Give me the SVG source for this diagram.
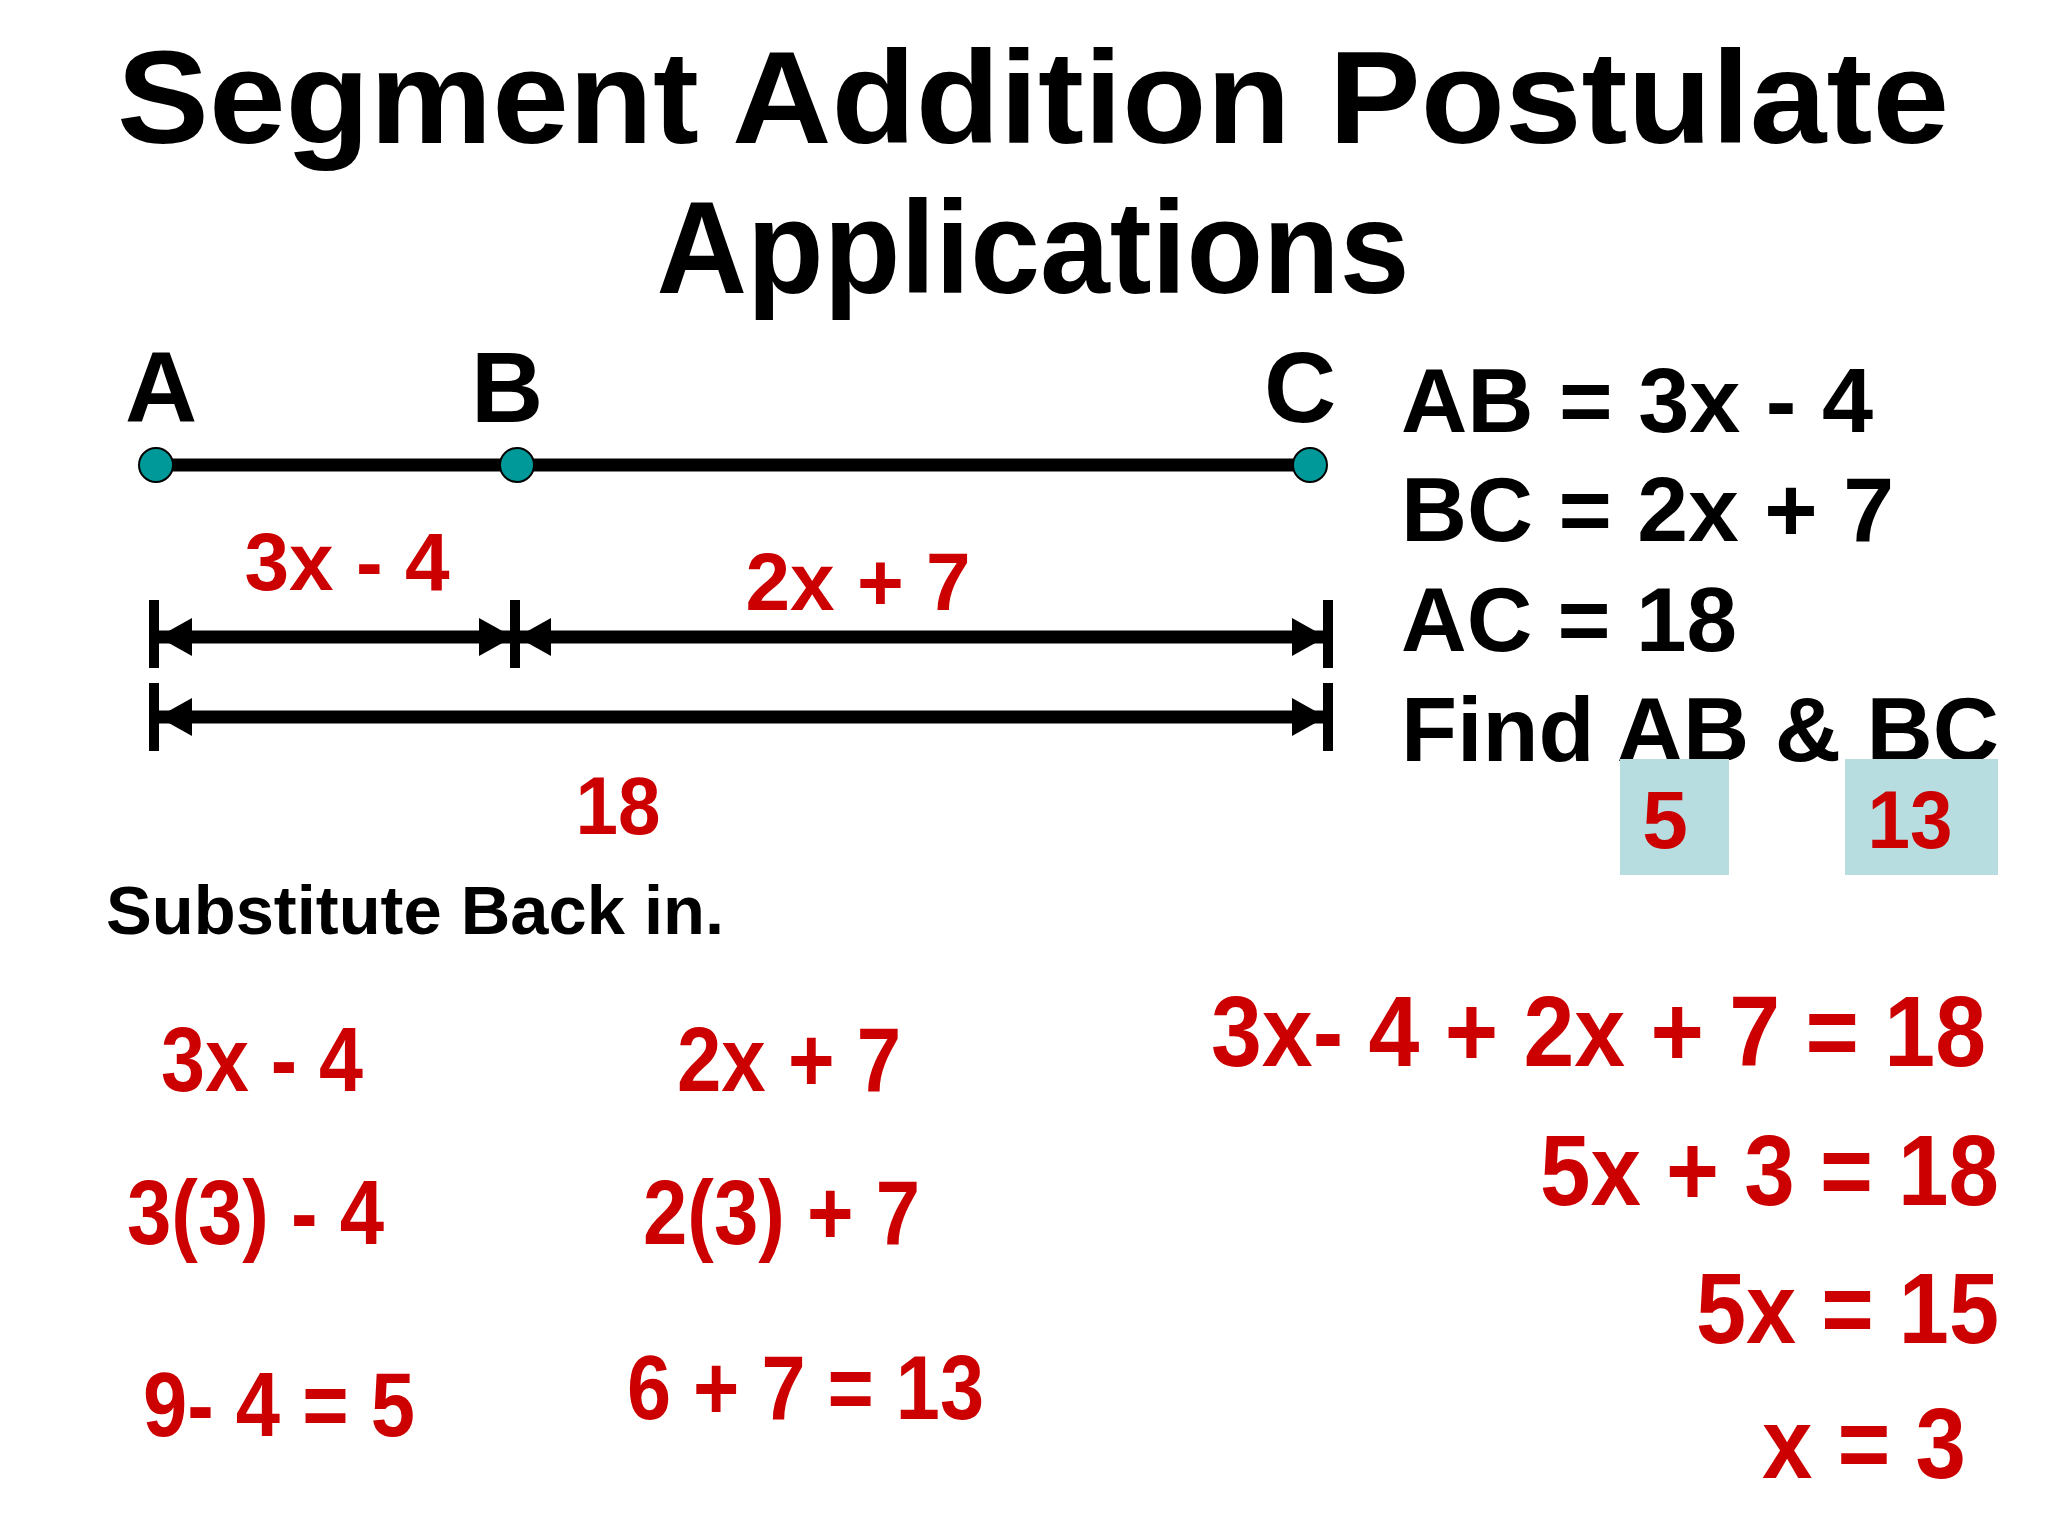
<svg xmlns="http://www.w3.org/2000/svg" width="2048" height="1536" viewBox="0 0 2048 1536">
<style>
text{font-family:"Liberation Sans",Arial,sans-serif;font-weight:bold}
.k{fill:#000}
.r{fill:#CC0000}
.ln{stroke:#000;stroke-width:13;fill:none}
.tk{stroke:#000;stroke-width:10}
.dot{fill:#009999;stroke:#000;stroke-width:2}
</style>
<defs>
<marker id="ah" viewBox="0 0 34 38" refX="34" refY="19" markerWidth="34" markerHeight="38" markerUnits="userSpaceOnUse" orient="auto-start-reverse"><path d="M0,0 L34,19 L0,38 Z" fill="#000"/></marker>
</defs>
<rect width="2048" height="1536" fill="#fff"/>
<g id="title">
<text x="1033" y="143" font-size="132" text-anchor="middle" class="k" textLength="1832" lengthAdjust="spacingAndGlyphs">Segment Addition Postulate</text>
<text x="1033" y="293" font-size="132" text-anchor="middle" class="k" textLength="753" lengthAdjust="spacingAndGlyphs">Applications</text>
</g>
<g id="connectors">
<line class="ln" x1="156" y1="465" x2="1310" y2="465" stroke-width="17"/>
<line class="ln" x1="158" y1="637" x2="513" y2="637" marker-start="url(#ah)" marker-end="url(#ah)"/>
<line class="ln" x1="517" y1="637" x2="1326" y2="637" marker-start="url(#ah)" marker-end="url(#ah)"/>
<line class="ln" x1="158" y1="717" x2="1326" y2="717" marker-start="url(#ah)" marker-end="url(#ah)"/>
<line class="tk" x1="154" y1="600" x2="154" y2="668"/>
<line class="tk" x1="515" y1="600" x2="515" y2="668"/>
<line class="tk" x1="1328" y1="600" x2="1328" y2="668"/>
<line class="tk" x1="154" y1="683" x2="154" y2="751"/>
<line class="tk" x1="1328" y1="683" x2="1328" y2="751"/>
</g>
<g id="pointA"><circle class="dot" cx="156" cy="465" r="17"/><text x="161" y="422" font-size="100" text-anchor="middle" class="k">A</text></g>
<g id="pointB"><circle class="dot" cx="517" cy="465" r="17"/><text x="507" y="422" font-size="100" text-anchor="middle" class="k">B</text></g>
<g id="pointC"><circle class="dot" cx="1310" cy="465" r="17"/><text x="1300" y="422" font-size="100" text-anchor="middle" class="k">C</text></g>
<g id="segLabels">
<text x="347" y="590" font-size="82" text-anchor="middle" class="r" textLength="205" lengthAdjust="spacingAndGlyphs">3x - 4</text>
<text x="858" y="610" font-size="82" text-anchor="middle" class="r" textLength="225" lengthAdjust="spacingAndGlyphs">2x + 7</text>
<text x="618" y="834" font-size="82" text-anchor="middle" class="r" textLength="85" lengthAdjust="spacingAndGlyphs">18</text>
</g>
<g id="given">
<text x="1401" y="432" font-size="90" class="k" textLength="472" lengthAdjust="spacingAndGlyphs">AB = 3x - 4</text>
<text x="1401" y="541" font-size="90" class="k" textLength="493" lengthAdjust="spacingAndGlyphs">BC = 2x + 7</text>
<text x="1401" y="651" font-size="90" class="k" textLength="336" lengthAdjust="spacingAndGlyphs">AC = 18</text>
<text x="1401" y="761" font-size="90" class="k" textLength="598" lengthAdjust="spacingAndGlyphs">Find AB &amp; BC</text>
</g>
<g id="answer5"><rect x="1620" y="759" width="109" height="116" fill="#B7DDE0"/><text x="1665" y="848" font-size="82" text-anchor="middle" class="r">5</text></g>
<g id="answer13"><rect x="1845" y="759" width="153" height="116" fill="#B7DDE0"/><text x="1910" y="848" font-size="82" text-anchor="middle" class="r" textLength="85" lengthAdjust="spacingAndGlyphs">13</text></g>
<g id="subst">
<text x="106" y="934" font-size="68" class="k" textLength="618" lengthAdjust="spacingAndGlyphs">Substitute Back in.</text>
</g>
<g id="leftWork">
<text x="161" y="1091" font-size="90" class="r" textLength="202" lengthAdjust="spacingAndGlyphs">3x - 4</text>
<text x="677" y="1091" font-size="90" class="r" textLength="224" lengthAdjust="spacingAndGlyphs">2x + 7</text>
<text x="127" y="1244" font-size="90" class="r" textLength="257" lengthAdjust="spacingAndGlyphs">3(3) - 4</text>
<text x="643" y="1244" font-size="90" class="r" textLength="277" lengthAdjust="spacingAndGlyphs">2(3) + 7</text>
<text x="143" y="1436" font-size="90" class="r" textLength="272" lengthAdjust="spacingAndGlyphs">9- 4 = 5</text>
<text x="627" y="1419" font-size="90" class="r" textLength="357" lengthAdjust="spacingAndGlyphs">6 + 7 = 13</text>
</g>
<g id="rightWork">
<text x="1211" y="1066" font-size="100" class="r" textLength="775" lengthAdjust="spacingAndGlyphs">3x- 4 + 2x + 7 = 18</text>
<text x="1999" y="1205" font-size="100" class="r" text-anchor="end" textLength="459" lengthAdjust="spacingAndGlyphs">5x + 3 = 18</text>
<text x="1999" y="1343" font-size="100" class="r" text-anchor="end" textLength="303" lengthAdjust="spacingAndGlyphs">5x = 15</text>
<text x="1966" y="1478" font-size="100" class="r" text-anchor="end" textLength="204" lengthAdjust="spacingAndGlyphs">x = 3</text>
</g>
</svg>
